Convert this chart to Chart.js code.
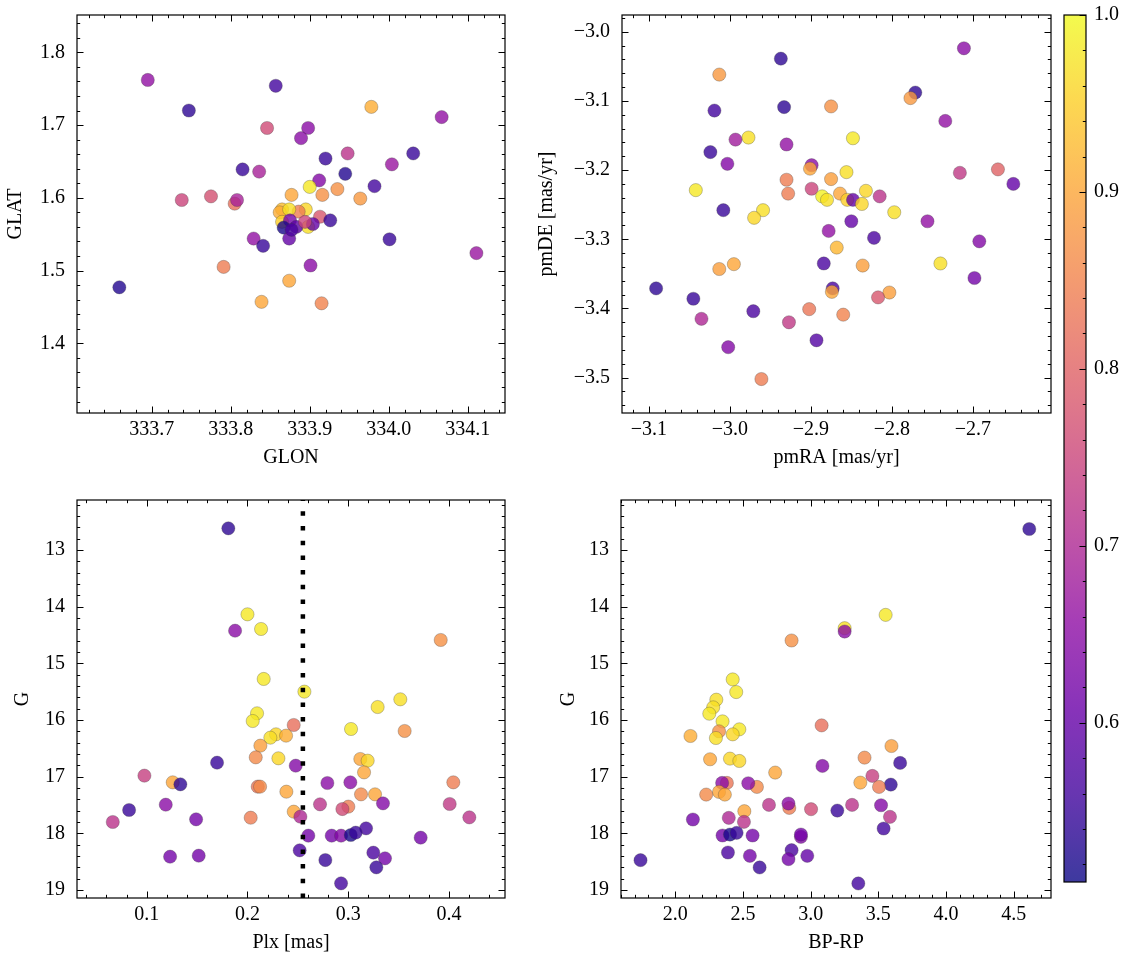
<!DOCTYPE html>
<html><head><meta charset="utf-8">
<script src="https://cdn.jsdelivr.net/npm/chart.js@4.4.1/dist/chart.umd.min.js"></script>
<style>
html,body{margin:0;padding:0;background:#fff;}
#wrap{position:relative;width:1133px;height:965px;overflow:hidden;background:#fff;}
canvas{position:absolute;}
</style></head><body>
<div id="wrap">
<canvas id="c1" width="560" height="480" style="left:0px;top:0px"></canvas>
<canvas id="c2" width="540" height="480" style="left:520px;top:0px"></canvas>
<canvas id="c3" width="560" height="485" style="left:0px;top:480px"></canvas>
<canvas id="c4" width="540" height="485" style="left:520px;top:480px"></canvas>
<canvas id="cb" width="93" height="965" style="left:1040px;top:0px"></canvas>
</div>
<script>
// ---------------- DATA ----------------
// Panel 1: GLON / GLAT
const glon = [333.695,333.747,333.857,333.978,334.067,333.846,333.898,333.889,333.948,333.920,334.031,334.004,333.815,333.836,333.945,333.982,333.912,333.900,333.877,333.916,333.935,333.964,333.738,333.775,333.805,333.808,333.865,333.862,333.895,333.886,333.874,333.913,333.865,333.898,333.875,333.867,333.883,333.904,333.894,333.874,333.877,333.926,333.829,333.841,334.001,334.111,333.901,333.791,333.874,333.839,333.915,333.659];
const glat = [1.762,1.720,1.754,1.725,1.711,1.696,1.696,1.682,1.661,1.654,1.661,1.646,1.639,1.636,1.633,1.616,1.624,1.615,1.604,1.604,1.612,1.599,1.597,1.602,1.592,1.597,1.584,1.580,1.584,1.581,1.584,1.574,1.567,1.560,1.569,1.559,1.560,1.564,1.567,1.544,1.556,1.569,1.544,1.534,1.543,1.524,1.507,1.505,1.486,1.457,1.455,1.477];
const probGal = [0.66,0.54,0.56,0.91,0.66,0.76,0.65,0.65,0.72,0.55,0.55,0.67,0.55,0.69,0.53,0.56,0.64,0.98,0.90,0.87,0.87,0.88,0.75,0.77,0.82,0.69,0.93,0.91,0.96,0.84,0.97,0.78,0.95,0.97,0.62,0.52,0.59,0.60,0.75,0.60,0.57,0.55,0.66,0.55,0.55,0.67,0.65,0.84,0.90,0.90,0.85,0.53];

// Panel 2: pmRA / pmDE
const pmra = [-2.711,-2.937,-3.013,-2.771,-2.777,-3.019,-2.933,-2.875,-2.734,-2.977,-2.993,-2.848,-2.930,-3.024,-3.003,-2.899,-2.901,-2.856,-2.716,-2.669,-2.650,-2.875,-2.930,-3.042,-2.899,-2.928,-2.864,-2.886,-2.880,-2.855,-2.848,-2.832,-2.837,-2.815,-2.797,-2.959,-2.970,-3.008,-2.850,-2.756,-2.878,-2.822,-2.692,-2.868,-2.995,-3.013,-2.884,-2.836,-2.740,-2.698,-3.091,-2.873,-2.874,-2.803,-2.817,-3.045,-2.971,-2.902,-2.860,-3.035,-2.927,-2.893,-3.002,-2.961];
const pmde = [-3.024,-3.039,-3.062,-3.088,-3.096,-3.114,-3.109,-3.108,-3.129,-3.153,-3.156,-3.154,-3.163,-3.174,-3.191,-3.193,-3.198,-3.203,-3.204,-3.199,-3.220,-3.213,-3.214,-3.229,-3.227,-3.234,-3.234,-3.238,-3.243,-3.243,-3.243,-3.230,-3.249,-3.238,-3.261,-3.258,-3.269,-3.258,-3.274,-3.274,-3.288,-3.298,-3.303,-3.312,-3.336,-3.343,-3.335,-3.338,-3.335,-3.356,-3.371,-3.371,-3.376,-3.377,-3.384,-3.386,-3.404,-3.401,-3.409,-3.415,-3.420,-3.446,-3.456,-3.502];
const probPm = [0.65,0.54,0.88,0.54,0.88,0.56,0.54,0.87,0.66,0.97,0.68,0.98,0.66,0.55,0.64,0.65,0.90,0.97,0.73,0.80,0.60,0.89,0.84,0.98,0.75,0.84,0.90,0.99,0.97,0.95,0.60,0.96,0.96,0.72,0.97,0.97,0.96,0.55,0.60,0.66,0.66,0.57,0.64,0.92,0.90,0.89,0.57,0.89,0.97,0.62,0.54,0.57,0.90,0.89,0.78,0.55,0.57,0.83,0.85,0.70,0.73,0.58,0.64,0.84];

// Panel 3: Plx / G
const plx = [0.181,0.200,0.2135,0.1877,0.3918,0.2161,0.2565,0.3517,0.3292,0.2095,0.2052,0.2459,0.3028,0.356,0.2283,0.2227,0.2383,0.2128,0.2082,0.2307,0.312,0.3193,0.1698,0.2479,0.3157,0.0977,0.1258,0.1334,0.2102,0.2125,0.2793,0.3021,0.4043,0.2386,0.3127,0.3266,0.1189,0.272,0.3345,0.4007,0.3001,0.2942,0.0825,0.2459,0.2525,0.2032,0.4202,0.149,0.0663,0.3177,0.2604,0.2836,0.2929,0.3025,0.3074,0.3719,0.2518,0.3249,0.3365,0.2773,0.1232,0.1516,0.3279,0.2929];
const gPlx = [12.618,14.135,14.394,14.424,14.588,15.276,15.50,15.635,15.771,15.882,16.018,16.088,16.159,16.194,16.253,16.312,16.276,16.453,16.659,16.676,16.688,16.718,16.753,16.806,16.924,16.982,17.10,17.135,17.176,17.176,17.112,17.10,17.10,17.265,17.312,17.312,17.494,17.488,17.471,17.482,17.529,17.571,17.588,17.618,17.706,17.724,17.718,17.753,17.80,17.912,18.041,18.041,18.041,18.029,17.988,18.076,18.30,18.341,18.441,18.471,18.412,18.394,18.60,18.882];
const probPlx = [0.54,0.98,0.98,0.65,0.87,0.98,0.98,0.97,0.97,0.98,0.98,0.82,0.98,0.87,0.96,0.97,0.91,0.89,0.86,0.96,0.90,0.96,0.55,0.64,0.90,0.74,0.90,0.54,0.83,0.86,0.65,0.65,0.84,0.90,0.86,0.90,0.65,0.72,0.64,0.73,0.84,0.76,0.55,0.90,0.70,0.84,0.72,0.62,0.72,0.56,0.62,0.62,0.64,0.52,0.55,0.62,0.57,0.57,0.62,0.55,0.62,0.62,0.55,0.56];

// Panel 4: BP-RP / G
const bprp = [4.615,3.554,3.251,3.251,2.859,2.424,2.450,2.303,2.280,2.251,2.349,3.081,2.473,2.323,2.424,2.300,2.112,3.597,3.398,2.404,2.257,2.473,3.661,3.087,2.738,3.456,3.367,3.592,2.381,2.603,2.346,2.539,3.505,2.323,2.228,2.366,2.692,3.306,3.520,2.842,2.836,3.003,2.510,3.197,2.395,3.586,2.130,1.743,2.507,3.539,2.349,2.571,2.928,2.404,2.453,2.928,2.859,2.389,2.836,2.975,2.551,2.623,3.352];
const gCmd = [12.63,14.145,14.38,14.439,14.597,15.284,15.507,15.642,15.777,15.889,16.024,16.095,16.165,16.20,16.253,16.318,16.282,16.459,16.664,16.682,16.693,16.723,16.758,16.811,16.928,16.987,17.105,17.14,17.11,17.181,17.11,17.116,17.181,17.269,17.316,17.316,17.498,17.498,17.504,17.551,17.474,17.574,17.609,17.598,17.727,17.709,17.756,18.473,17.797,17.915,18.038,18.038,18.062,18.021,17.991,18.021,18.297,18.338,18.455,18.397,18.397,18.602,18.884];
const probCmd = [0.54,0.98,0.97,0.65,0.87,0.98,0.98,0.97,0.97,0.98,0.98,0.82,0.98,0.87,0.96,0.97,0.91,0.89,0.86,0.96,0.90,0.96,0.55,0.64,0.90,0.74,0.90,0.54,0.83,0.86,0.65,0.65,0.84,0.90,0.86,0.90,0.72,0.72,0.64,0.84,0.65,0.76,0.90,0.55,0.70,0.72,0.62,0.55,0.72,0.56,0.62,0.62,0.64,0.52,0.55,0.62,0.57,0.57,0.62,0.60,0.62,0.55,0.56];

// Reference line (parallax) in panel 3
const plxCut = 0.255;

// Tick labels (major) for each axis
const ticksGlon = [333.7, 333.8, 333.9, 334.0, 334.1];
const ticksGlat = [1.4, 1.5, 1.6, 1.7, 1.8];
const ticksPmra = [-3.1, -3.0, -2.9, -2.8, -2.7];
const ticksPmde = [-3.5, -3.4, -3.3, -3.2, -3.1, -3.0];
const ticksPlx = [0.1, 0.2, 0.3, 0.4];
const ticksG = [13, 14, 15, 16, 17, 18, 19];
const ticksBprp = [2.0, 2.5, 3.0, 3.5, 4.0, 4.5];
const ticksProb = [0.6, 0.7, 0.8, 0.9, 1.0];

// Colour scale range
const probMin = 0.51, probMax = 1.0;

// ---------------- HELPERS ----------------
const PLASMA = ['#0d0887','#41049d','#6a00a8','#8f0da4','#b12a90','#cc4778','#e16462','#f2844b','#fca636','#fcce25','#f0f921'];
function hex(h){return [parseInt(h.slice(1,3),16),parseInt(h.slice(3,5),16),parseInt(h.slice(5,7),16)];}
function plasma(t){
  t=Math.min(1,Math.max(0,t)); const f=t*10; const i=Math.min(9,Math.floor(f)); const u=f-i;
  const a=hex(PLASMA[i]), b=hex(PLASMA[i+1]);
  return a.map((c,k)=>Math.round(c+(b[k]-c)*u));
}
function cmap(p,alpha){const c=plasma((p-probMin)/(probMax-probMin));return `rgba(${c[0]},${c[1]},${c[2]},${alpha})`;}
function steps(a,b,s){const out=[];const n=Math.round((b-a)/s);for(let i=0;i<=n;i++)out.push(+(a+i*s).toFixed(6));return out;}
const MINUS='\u2212';
const f1 = v => (v<0?MINUS:'') + Math.abs(v).toFixed(1);
const f0 = v => String(Math.round(v));
const FONT = {family:"'Liberation Serif','DejaVu Serif',serif", size:20};

function framePlugin(o){
  return {id:'frame', afterDatasetsDraw(chart){
    const {ctx, chartArea:a, scales:{x,y}} = chart;
    ctx.save();
    if (o.vline !== undefined){
      const px = x.getPixelForValue(o.vline);
      ctx.save();
      ctx.beginPath(); ctx.rect(a.left,a.top,a.right-a.left,a.bottom-a.top); ctx.clip();
      ctx.strokeStyle='#000'; ctx.lineWidth=4.5; ctx.lineCap='butt';
      ctx.setLineDash([4.5,10.2]);
      ctx.beginPath(); ctx.moveTo(px,a.bottom); ctx.lineTo(px,a.top); ctx.stroke();
      ctx.restore();
    }
    ctx.strokeStyle='#000'; ctx.lineWidth=1;
    const tx=(vals,len)=>{vals.forEach(v=>{const px=Math.round(x.getPixelForValue(v))+0.5; if(px<a.left-0.5||px>a.right+0.5)return;
      ctx.beginPath();ctx.moveTo(px,a.bottom);ctx.lineTo(px,a.bottom-len);ctx.moveTo(px,a.top);ctx.lineTo(px,a.top+len);ctx.stroke();});};
    const ty=(vals,len)=>{vals.forEach(v=>{const py=Math.round(y.getPixelForValue(v))+0.5; if(py<a.top-0.5||py>a.bottom+0.5)return;
      ctx.beginPath();ctx.moveTo(a.left,py);ctx.lineTo(a.left+len,py);ctx.moveTo(a.right,py);ctx.lineTo(a.right-len,py);ctx.stroke();});};
    tx(o.xMinor,3.2); tx(o.xMajor,6.5); ty(o.yMinor,3.2); ty(o.yMajor,6.5);
    ctx.lineWidth=1.2;
    ctx.strokeRect(a.left,a.top,a.right-a.left,a.bottom-a.top);
    ctx.restore();
  }};
}

function makePanel(id,o){
  const pts=o.x.map((v,i)=>({x:v,y:o.y[i]}));
  const cols=o.p.map(p=>cmap(p,0.8));
  return new Chart(document.getElementById(id),{
    type:'scatter',
    data:{datasets:[{data:pts,backgroundColor:cols,borderColor:'rgba(60,60,60,0.5)',borderWidth:0.6,pointRadius:6.6,pointHoverRadius:6.6}]},
    options:{
      responsive:false, animation:false, devicePixelRatio:1, events:[],
      layout:{padding:{left:0,top:o.top,right:o.right,bottom:0}},
      plugins:{legend:{display:false},tooltip:{enabled:false}},
      scales:{
        x:{type:'linear',min:o.xmin,max:o.xmax,
          grid:{display:false,drawTicks:false,tickLength:0},border:{display:false},
          ticks:{font:FONT,color:'#000',padding:5,maxRotation:0,minRotation:0,autoSkip:false,callback:o.xfmt},
          afterBuildTicks:s=>{s.ticks=o.xMajor.map(v=>({value:v}));},
          afterFit:s=>{s.height=o.xh;s.paddingLeft=0;s.paddingRight=0;},
          title:{display:true,text:o.xlabel,font:FONT,color:'#000',padding:{top:0,bottom:10.5}}},
        y:{type:'linear',min:o.ymin,max:o.ymax,reverse:!!o.rev,
          grid:{display:false,drawTicks:false,tickLength:0},border:{display:false},
          ticks:{font:FONT,color:'#000',padding:12,autoSkip:false,callback:o.yfmt},
          afterBuildTicks:s=>{s.ticks=o.yMajor.map(v=>({value:v}));},
          afterFit:s=>{s.width=o.yw;s.paddingTop=0;s.paddingBottom=0;},
          title:{display:true,text:o.ylabel,font:FONT,color:'#000',padding:{top:o.ytp,bottom:0}}}
      }
    },
    plugins:[framePlugin(o)]
  });
}

makePanel('c1',{x:glon,y:glat,p:probGal,xmin:333.6054,xmax:334.1472,ymin:1.3042,ymax:1.8513,
  xMajor:ticksGlon,xMinor:steps(333.62,334.14,0.02),yMajor:ticksGlat,yMinor:steps(1.32,1.84,0.02),
  xfmt:f1,yfmt:f1,xlabel:'GLON',ylabel:'GLAT',top:15,right:55,yw:77,xh:67,ytp:4});
makePanel('c2',{x:pmra,y:pmde,p:probPm,xmin:-3.1331,xmax:-2.6035,ymin:-3.5511,ymax:-2.9759,
  xMajor:ticksPmra,xMinor:steps(-3.12,-2.62,0.02),yMajor:ticksPmde,yMinor:steps(-3.54,-2.98,0.02),
  xfmt:f1,yfmt:f1,xlabel:'pmRA [mas/yr]',ylabel:'pmDE [mas/yr]',top:15,right:9,yw:102,xh:67,ytp:15});
makePanel('c3',{x:plx,y:gPlx,p:probPlx,xmin:0.0308,xmax:0.4556,ymin:12.118,ymax:19.141,rev:true,
  xMajor:ticksPlx,xMinor:steps(0.04,0.44,0.02),yMajor:ticksG,yMinor:steps(12.2,19.0,0.2),
  xfmt:f1,yfmt:f0,xlabel:'Plx [mas]',ylabel:'G',top:20,right:55,yw:77,xh:67,ytp:10.7,vline:plxCut});
makePanel('c4',{x:bprp,y:gCmd,p:probCmd,xmin:1.5988,xmax:4.7756,ymin:12.118,ymax:19.141,rev:true,
  xMajor:ticksBprp,xMinor:steps(1.6,4.7,0.1),yMajor:ticksG,yMinor:steps(12.2,19.0,0.2),
  xfmt:f1,yfmt:f0,xlabel:'BP-RP',ylabel:'G',top:20,right:9,yw:101,xh:67,ytp:36.8});

// Colour bar
const cbMinor = steps(0.52,0.98,0.02);
new Chart(document.getElementById('cb'),{
  type:'scatter', data:{datasets:[]},
  options:{responsive:false,animation:false,devicePixelRatio:1,events:[],
    layout:{padding:{left:24,top:15,right:0,bottom:83}},
    plugins:{legend:{display:false},tooltip:{enabled:false}},
    scales:{
      x:{display:false,min:0,max:1},
      y:{position:'right',min:probMin,max:probMax,
        grid:{display:false,drawTicks:false,tickLength:0},border:{display:false},
        ticks:{font:FONT,color:'#000',padding:8,autoSkip:false,callback:f1},
        afterBuildTicks:s=>{s.ticks=ticksProb.map(v=>({value:v}));},
        afterFit:s=>{s.width=47;s.paddingTop=0;s.paddingBottom=0;}}
    }},
  plugins:[{id:'cbar',afterDraw(chart){
    const {ctx,chartArea:a,scales:{y}}=chart;
    ctx.save();
    const g=ctx.createLinearGradient(0,y.getPixelForValue(probMin),0,y.getPixelForValue(probMax));
    for(let i=0;i<=20;i++){const t=i/20;const c=plasma(t);g.addColorStop(t,`rgba(${c[0]},${c[1]},${c[2]},0.8)`);}
    ctx.fillStyle=g; ctx.fillRect(a.left,a.top,a.right-a.left,a.bottom-a.top);
    ctx.strokeStyle='#000'; ctx.lineWidth=1;
    const tk=(vals,len)=>vals.forEach(v=>{const py=Math.round(y.getPixelForValue(v))+0.5; if(py<a.top||py>a.bottom)return;
      ctx.beginPath();ctx.moveTo(a.right,py);ctx.lineTo(a.right-len,py);ctx.stroke();});
    tk(cbMinor,3.2); tk(ticksProb,6.5);
    ctx.lineWidth=1.2; ctx.strokeRect(a.left,a.top,a.right-a.left,a.bottom-a.top);
    ctx.restore();
  }}]
});
</script>
</body></html>
